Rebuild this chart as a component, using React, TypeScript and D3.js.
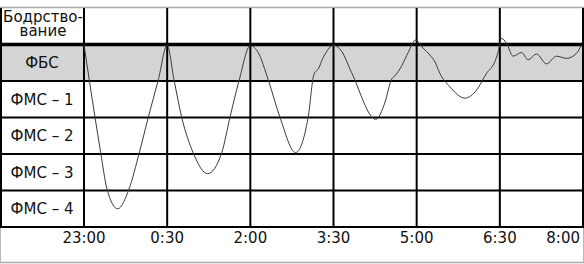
import React from "react";
import * as d3 from "d3";

// Stage rows (top to bottom)
const stages = ["Бодрство-\nвание", "ФБС", "ФМС – 1", "ФМС – 2", "ФМС – 3", "ФМС – 4"];
// Time ticks: minutes since 23:00
const tickMinutes = [0, 90, 180, 270, 360, 450, 540];
const tickLabels = ["23:00", "0:30", "2:00", "3:30", "5:00", "6:30", "8:00"];

// Sleep curve: minutes since 23:00, depth in stage rows (0 = top of ФБС)
const curveMinutes = [
  0, 5.7, 11.9, 18.1, 24.9, 36.5, 48.7, 59.8, 69.6, 80.4, 90,
  97.4, 105.7, 118.2, 133.8, 149, 158, 168, 180,
  188.5, 199.4, 212, 229, 242.6, 248.8, 254.2, 257.8, 260.7, 270,
  278.7, 289.6, 315.9, 325.6, 332.9, 336.4, 343.7, 350.8, 358.6,
  367, 374.3, 379.7, 385.1, 396, 412.2, 424.8, 435.6, 444.6, 448.2, 451.9,
  457.3, 464.4, 473.5, 480.6, 489.7, 500.5, 511.4, 522.2, 533, 538.4,
];
const curveDepth = [
  0, 0.97, 1.99, 2.97, 3.96, 4.5, 3.96, 2.97, 1.99, 0.97, 0.02,
  0.97, 1.99, 2.97, 3.54, 2.97, 1.99, 0.97, 0.03,
  0.22, 0.97, 1.99, 2.96, 1.99, 0.82, 0.64, 0.41, 0.27, 0.02,
  0.18, 0.77, 2.05, 1.59, 0.95, 0.86, 0.59, 0.22, -0.12,
  0.1, 0.29, 0.47, 0.79, 1.16, 1.47, 1.25, 0.79, 0.47, 0.2, -0.17,
  -0.03, 0.32, 0.22, 0.42, 0.26, 0.53, 0.32, 0.38, 0.24, 0.01,
];

const W = 584;
const H = 264;
const LEFT = 84;
const RIGHT = 583;
const TOP = 8;
const GRID_BOTTOM = 227;
const BOTTOM = 262.5;

export default function App() {
  const x = d3.scaleLinear().domain([0, 540]).range([LEFT, RIGHT]);
  const y = d3.scaleLinear().domain([-1, 5]).range([TOP, GRID_BOTTOM]);

  const pts: [number, number][] = curveMinutes.map((m, i) => [m, curveDepth[i]]);
  const line = d3
    .line<[number, number]>()
    .x((d) => x(d[0]))
    .y((d) => y(d[1]))
    .curve(d3.curveMonotoneX);

  const font = "DejaVu Sans, Verdana, sans-serif";
  const rowBounds = d3.range(-1, 6);

  return (
    <svg
      width={W}
      height={H}
      style={{ position: "absolute", left: 0, top: 0, background: "#fff" }}
      fontFamily={font}
    >
      <rect x={0} y={0} width={W} height={H} fill="#fff" />
      {/* ФБС shading */}
      <rect x={0} y={y(0)} width={RIGHT} height={y(1) - y(0)} fill="#d4d4d4" />

      {/* outer grey frame */}
      <line x1={0} x2={W} y1={7.5} y2={7.5} stroke="#a8a8a8" strokeWidth={1.5} />
      <line x1={0} x2={W} y1={BOTTOM} y2={BOTTOM} stroke="#a8a8a8" strokeWidth={1.5} />
      <line x1={0.5} x2={0.5} y1={GRID_BOTTOM} y2={BOTTOM} stroke="#b8b8b8" strokeWidth={1} />
      <line x1={583.5} x2={583.5} y1={GRID_BOTTOM} y2={BOTTOM} stroke="#b8b8b8" strokeWidth={1} />

      {/* horizontal row lines */}
      {rowBounds.slice(1).map((r) => (
        <line
          key={"h" + r}
          x1={0}
          x2={W}
          y1={y(r)}
          y2={y(r)}
          stroke="#000"
          strokeWidth={r === 0 ? 3.6 : 2}
        />
      ))}

      {/* left border */}
      <line x1={1} x2={1} y1={TOP} y2={GRID_BOTTOM} stroke="#000" strokeWidth={2} />

      {/* vertical time lines */}
      {tickMinutes.map((m) => (
        <line
          key={"v" + m}
          x1={Math.min(x(m), 583)}
          x2={Math.min(x(m), 583)}
          y1={TOP}
          y2={GRID_BOTTOM}
          stroke="#000"
          strokeWidth={2}
        />
      ))}

      {/* curve */}
      <path d={line(pts) || ""} fill="none" stroke="#3a3a3a" strokeWidth={1} />

      {/* stage labels */}
      {stages.map((s, i) => {
        const cy = (y(i - 1) + y(i)) / 2;
        const parts = s.split("\n");
        if (parts.length === 2) {
          return (
            <text key={s} x={43} fontSize={15} textAnchor="middle" fill="#111">
              <tspan x={43} y={cy - 4.5}>{parts[0]}</tspan>
              <tspan x={43} y={cy + 10}>{parts[1]}</tspan>
            </text>
          );
        }
        return (
          <text key={s} x={42} y={cy + 5.3} fontSize={15} textAnchor="middle" fill="#111">
            {s}
          </text>
        );
      })}

      {/* time tick labels */}
      {tickMinutes.map((m, i) => {
        const last = i === tickMinutes.length - 1;
        return (
          <text
            key={"t" + m}
            x={last ? 580 : x(m)}
            y={243}
            fontSize={15}
            textAnchor={last ? "end" : "middle"}
            fill="#111"
          >
            {tickLabels[i]}
          </text>
        );
      })}
    </svg>
  );
}
